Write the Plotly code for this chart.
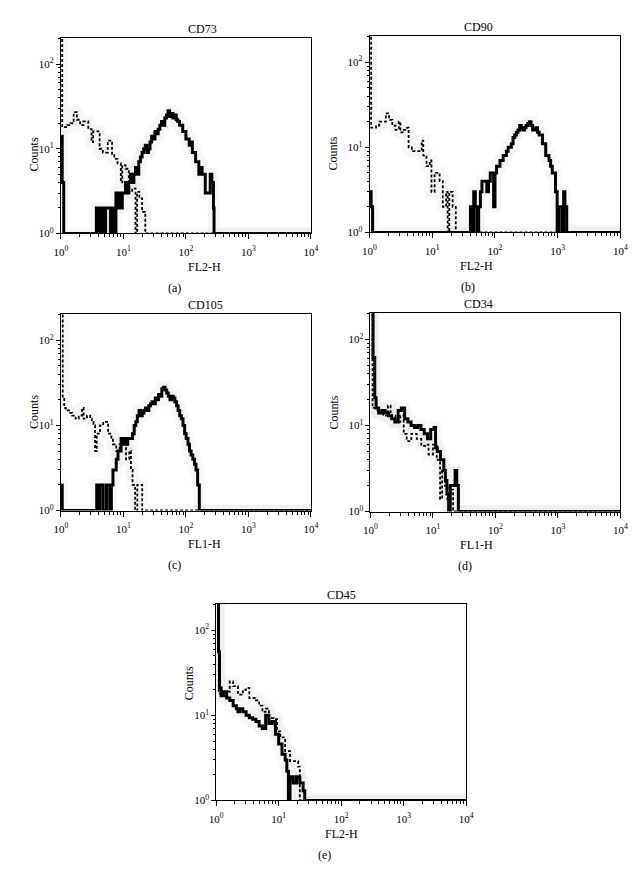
import plotly.graph_objects as go

# Flow cytometry histograms (counts per channel).
# Zero counts are stored as 0, spikes that run off the top as 250.

# (a) CD73
a_iso_x = [1.0, 1.05, 1.26, 1.42, 1.6, 1.8, 2.03, 2.29, 2.74, 3.09, 3.28, 3.69, 4.17, 4.69,
           5.62, 6.58, 7.14, 8.06, 9.1, 9.6, 10.8, 12.2, 13.8, 15.6, 16.6, 18.0, 19.9, 22.4,
           23.7, 10000]
a_iso_y = [250, 18, 19, 20, 27, 22, 19, 21, 17, 12, 16, 16, 10, 9,
           12.5, 8.4, 7.6, 6.7, 4, 6.4, 5.8, 3.1, 3.4, 0, 3.1, 2.6, 1.8, 0,
           0, 0]
a_ab_x = [1.0, 1.05, 1.11, 3.69, 4.0, 4.27, 4.69, 5.2, 5.62, 6.2, 6.58, 7.14, 7.6,
          8.06, 8.6, 9.1, 9.6, 10.2, 10.8, 11.5, 12.2, 13.0, 13.8,
          14.7, 15.6, 16.6, 17.6, 18.7, 19.9, 21.1, 22.4, 23.8, 25.2,
          26.7, 28.3, 30.1, 32.0, 34.0, 36.0, 38.3, 40.7, 43.2, 45.9,
          48.8, 51.8, 55.0, 58.3, 62.0, 65.8, 70.0, 74.2, 79.0, 83.6,
          89.0, 94.3, 100, 106, 113, 120, 127, 135, 143, 152,
          161, 171, 182, 193, 204, 217, 231, 245, 260, 276,
          282, 10000]
a_ab_y = [14, 4, 0, 2, 1, 2, 1, 2, 2, 1, 2, 1, 3,
          2, 3, 2, 3, 3, 4, 3, 4, 5, 4,
          5, 6, 5, 7, 8, 9, 10, 11, 9, 10,
          12, 14, 13, 16, 15, 17, 19, 21, 19, 23,
          25, 28, 24, 26, 23, 25, 22, 21, 19, 19,
          16, 16, 13, 13, 11, 12, 9, 9, 7, 7,
          5, 6, 5, 5, 3, 3, 3, 5, 4, 2,
          0, 0]

# (b) CD90
b_iso_x = [1.0, 1.06, 1.27, 1.43, 1.61, 1.82, 2.05, 2.31, 2.6, 2.93,
           3.11, 3.51, 3.96, 4.2, 4.73, 5.33, 6.0, 6.77, 7.19, 8.1,
           9.13, 9.7, 10.9, 12.3, 13.1, 14.7, 16.6, 17.6, 18.7, 21.1,
           22.4, 23.7, 10000]
b_iso_y = [250, 17, 18, 20, 20, 25, 21, 18, 16, 20,
           15, 16, 17, 10, 9, 9, 9, 12, 8, 6,
           7, 3, 5, 5, 4, 2, 3, 0, 3, 2,
           2, 0, 0]
b_ab_x = [1.0, 1.06, 1.12, 40.6, 43.1, 45.8, 48.6, 51.6, 54.9, 58.5,
          62, 66, 69.9, 74, 78.9, 84, 89, 95, 100, 106,
          113, 120, 127, 135, 143, 152, 162, 172, 182, 194,
          206, 219, 232, 247, 262, 278, 295, 313, 332, 353,
          375, 398, 422, 448, 476, 505, 537, 570, 605, 643,
          683, 725, 770, 818, 868, 921, 979, 1040, 1100, 1170,
          1240, 1300, 1390, 10000]
b_ab_y = [3, 2, 0, 2, 1, 3, 2, 1, 2, 3,
          4, 4, 4, 3, 4, 5, 5, 2, 5, 6,
          6, 7, 7, 8, 8, 9, 10, 10, 11, 13,
          14, 15, 16, 18, 17, 16, 17, 18, 19, 20,
          18, 16, 16, 17, 15, 14, 14, 11, 11, 8,
          8, 7, 6, 5, 5, 3, 1, 2, 2, 1,
          3, 2, 0, 0]

# (c) CD105
c_iso_x = [1.0, 1.07, 1.13, 1.2, 1.35, 1.52, 1.72, 1.93, 2.18, 2.31,
           2.61, 2.94, 3.12, 3.32, 3.52, 3.74, 4.22, 4.75, 5.36, 5.69,
           6.42, 6.81, 7.68, 8.66, 9.77, 11.0, 12.4, 13.2, 14.0, 15.4,
           16.7, 18.9, 20.0, 21.3, 10000]
c_iso_y = [250, 21, 16, 15, 14, 13, 12, 13, 16, 12,
           13, 12, 11, 10, 5, 8, 10, 11, 11, 8,
           7, 6, 5, 6, 6, 4, 5, 3, 2, 0,
           2, 2, 1, 0, 0]
c_ab_x = [1.0, 1.05, 1.1, 3.52, 3.74, 3.97, 4.22, 4.75, 5.36, 6.04,
          6.42, 6.81, 7.24, 7.68, 8.2, 8.66, 9.19, 9.77, 10.4, 11.0,
          11.7, 12.4, 13.2, 14.0, 14.9, 15.8, 16.7, 17.8, 18.9, 20.0,
          21.3, 22.6, 24.0, 25.5, 27.1, 28.7, 30.5, 32.4, 34.4, 36.5,
          38.8, 41.2, 43.7, 46.4, 49.3, 52.3, 55.6, 59.0, 62.7, 66.6,
          70.7, 75.0, 79.7, 84.6, 89.9, 95.5, 101, 108, 114, 121,
          129, 137, 145, 154, 164, 10000]
c_ab_y = [2, 1, 0, 1, 2, 1, 2, 1, 2, 1,
          2, 3, 3, 4, 5, 5, 7, 6, 7, 6,
          7, 7, 7, 8, 10, 11, 13, 15, 13, 14,
          15, 16, 15, 17, 18, 19, 18, 21, 20, 23,
          22, 27, 28, 26, 24, 22, 20, 22, 21, 19,
          17, 15, 13, 12, 10, 8, 7, 6, 5, 4.5,
          4, 3.5, 3, 2, 0, 0]

# (d) CD34
d_iso_x = [1.0, 1.08, 1.3, 1.6, 1.9, 2.1, 2.5, 3.0, 3.4, 3.8,
           4.5, 5.5, 6.5, 7.5, 8.5, 10.0, 11.5, 13.0, 14.0, 15.5,
           17.0, 19.0, 21.0, 22.5, 10000]
d_iso_y = [250, 16, 14, 13, 17, 13, 11, 13, 8, 6.6,
           8, 7, 5.8, 6, 4.6, 6, 4, 1.4, 3, 2,
           1.3, 1.8, 1, 0, 0]
d_ab_x = [1.0, 1.1, 1.17, 1.23, 1.35, 1.52, 1.72, 1.93, 2.18, 2.46,
          2.77, 3.12, 3.52, 3.97, 4.47, 5.04, 5.69, 6.42, 7.24, 8.16,
          9.2, 10.4, 11.0, 11.7, 13.2, 14.9, 15.8, 16.7, 17.8, 18.9,
          20.8, 22.6, 24.0, 25.5, 10000]
d_ab_y = [250, 62, 21, 16, 14, 15, 14, 13, 12, 11,
          15, 16, 12, 11, 10, 9.5, 10, 9, 8, 7,
          9, 9.5, 5.5, 5, 4, 3, 2.3, 1.6, 1, 2,
          2, 3, 2, 0, 0]

# (e) CD45
e_iso_x = [1.0, 1.1, 1.3, 1.47, 1.65, 1.87, 2.23, 2.67, 3.01, 3.39,
           3.83, 4.32, 4.87, 5.49, 6.19, 6.98, 8.36, 9.42, 10.6, 12.7,
           15.2, 18.2, 20.5, 21.8, 10000]
e_iso_y = [250, 18, 17, 19, 25, 22, 17.5, 20, 21, 16,
           16, 15, 13, 11, 12, 9.3, 9, 6.5, 5.5, 3.8,
           2.9, 2.9, 2.5, 0, 0]
e_ab_x = [1.0, 1.09, 1.13, 1.2, 1.3, 1.47, 1.65, 1.87, 2.1, 2.23,
          2.37, 2.67, 3.01, 3.39, 3.83, 4.32, 4.87, 5.49, 6.19, 6.98,
          7.86, 8.87, 10.0, 11.3, 12.7, 13.5, 14.3, 15.2, 17.1, 19.3,
          21.8, 24.6, 26.1, 10000]
e_ab_y = [250, 56, 21, 17, 19, 16, 15, 13, 12, 11,
          12, 11, 10, 9.4, 9, 8.5, 7.5, 7, 10, 8,
          8.5, 6, 4.6, 3.5, 3, 2.2, 0, 1.9, 1.6, 1.9,
          1.6, 1.3, 0, 0]

titles = ["CD73", "CD90", "CD105", "CD34", "CD45"]
xlabels = ["FL2-H", "FL2-H", "FL1-H", "FL1-H", "FL2-H"]
letters = ["(a)", "(b)", "(c)", "(d)", "(e)"]

x_tickvals = [1, 10, 100, 1000, 10000]
x_ticktext = ["10<sup>0</sup>", "10<sup>1</sup>", "10<sup>2</sup>", "10<sup>3</sup>", "10<sup>4</sup>"]
y_tickvals = [1, 10, 100]
y_ticktext = ["10<sup>0</sup>", "10<sup>1</sup>", "10<sup>2</sup>"]

W, H = 641, 870
FONT = "Liberation Serif, Times New Roman, serif"

# Pixel boxes of each plot area: (left, right, top, bottom), plus label spots.
boxes = [(47, 303, 30, 227), (363, 620, 28, 226), (47, 303, 308, 506),
         (364, 620, 307, 507), (206, 462, 600, 798)]
letter_x = [155, 473, 155, 470, 317]


def fx(px):
    return px / W


def fy(py):
    return 1 - py / H


def floor_zero(vals):
    # counts of zero sit on the 10^0 baseline
    return [max(v, 1) for v in vals]


series = [
    (a_iso_x, a_iso_y, a_ab_x, a_ab_y),
    (b_iso_x, b_iso_y, b_ab_x, b_ab_y),
    (c_iso_x, c_iso_y, c_ab_x, c_ab_y),
    (d_iso_x, d_iso_y, d_ab_x, d_ab_y),
    (e_iso_x, e_iso_y, e_ab_x, e_ab_y),
]

minor_x = [m * 10 ** k for k in range(4) for m in range(2, 10)]
minor_y = [m * 10 ** k for k in range(3) for m in range(2, 10)]

fig = go.Figure()
annotations = []
layout_axes = {}

for i, (ix, iy, sx, sy) in enumerate(series):
    n = "" if i == 0 else str(i + 1)
    xa, ya = "x" + n, "y" + n
    left, right, top, bottom = boxes[i]

    # faint grey halo, like the scanned original
    for xs, ys in ((ix, iy), (sx, sy)):
        fig.add_trace(go.Scatter(
            x=xs, y=floor_zero(ys), mode="lines", line_shape="hv",
            line=dict(color="rgba(0,0,0,0.03)", width=12),
            xaxis=xa, yaxis=ya, showlegend=False, hoverinfo="skip"))
    fig.add_trace(go.Scatter(
        x=ix, y=floor_zero(iy), mode="lines", line_shape="hv",
        line=dict(color="black", width=1.8, dash="3px,2px"),
        xaxis=xa, yaxis=ya, showlegend=False, name="isotype"))
    fig.add_trace(go.Scatter(
        x=sx, y=floor_zero(sy), mode="lines", line_shape="hv",
        line=dict(color="black", width=3),
        xaxis=xa, yaxis=ya, showlegend=False, name=titles[i]))

    common = dict(type="log", showline=True, mirror=True, linecolor="black",
                  linewidth=1, showgrid=False, zeroline=False, ticks="outside",
                  tickcolor="black", tickwidth=1, tickmode="array",
                  tickfont=dict(family=FONT, size=11, color="black"))
    layout_axes["xaxis" + n] = dict(
        common, domain=[fx(left), fx(right)], anchor=ya, range=[0, 4],
        tickvals=x_tickvals, ticktext=x_ticktext, ticklen=5, ticklabelstandoff=3,
        minor=dict(tickmode="array", tickvals=minor_x, ticks="outside",
                   ticklen=3, tickcolor="black", showgrid=False))
    layout_axes["yaxis" + n] = dict(
        common, domain=[fy(bottom), fy(top)], anchor=xa, range=[0, 2.31],
        tickvals=y_tickvals, ticktext=y_ticktext, ticklen=4,
        minor=dict(tickmode="array", tickvals=minor_y, ticks="outside",
                   ticklen=2, tickcolor="black", showgrid=False))

    cx = (left + right) / 2
    txt = dict(family=FONT, size=12, color="black")
    annotations += [
        dict(text=titles[i], x=fx(cx), y=fy(top - 9), xref="paper", yref="paper",
             showarrow=False, font=txt, yanchor="middle"),
        dict(text="Counts", x=fx(left - 37), y=fy((top + bottom) / 2), xref="paper",
             yref="paper", showarrow=False, font=txt, textangle=-90),
        dict(text=xlabels[i], x=fx(cx), y=fy(bottom + 34), xref="paper", yref="paper",
             showarrow=False, font=txt, yanchor="middle"),
        dict(text=letters[i], x=fx(letter_x[i]), y=fy(bottom + 55), xref="paper",
             yref="paper", showarrow=False, font=txt, yanchor="middle"),
    ]

fig.update_layout(
    width=W, height=H, autosize=False,
    margin=dict(l=0, r=0, t=0, b=0),
    paper_bgcolor="white", plot_bgcolor="white",
    font=dict(family=FONT, color="black"),
    annotations=annotations,
    showlegend=False,
    **layout_axes,
)

fig.write_html("out.html")
